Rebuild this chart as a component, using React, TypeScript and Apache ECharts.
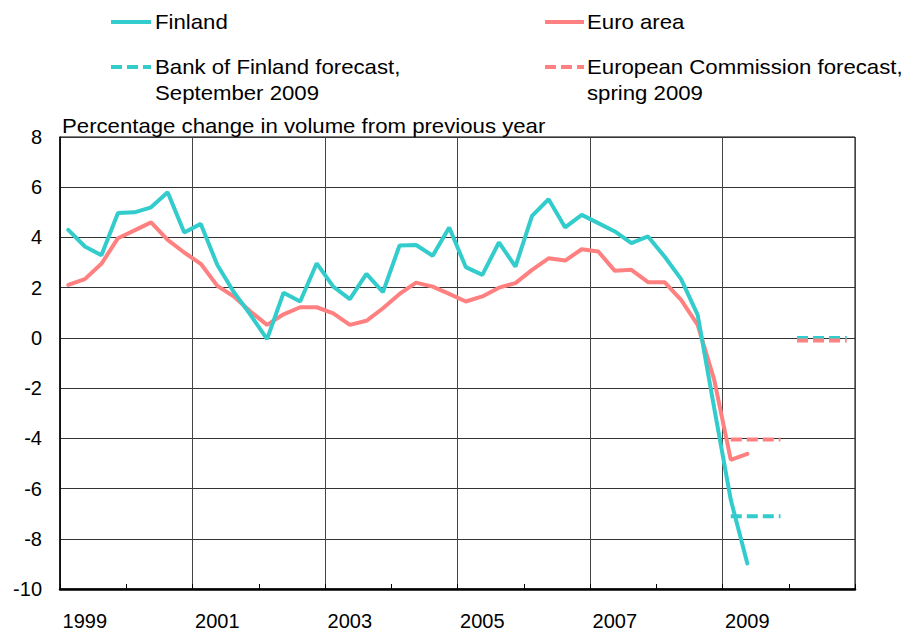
import React, { useEffect, useRef } from 'react';
import * as echarts from 'echarts';

const years = ['1999', '2000', '2001', '2002', '2003', '2004', '2005', '2006', '2007', '2008', '2009', '2010'];
const quarters = ['Q1', 'Q2', 'Q3', 'Q4'];

const finland = [
  4.3, 3.64, 3.29, 4.97, 5.0, 5.2, 5.8, 4.2,
  4.54, 2.9, 1.82, 0.92, -0.05, 1.8, 1.45, 2.97,
  2.04, 1.54, 2.55, 1.82, 3.68, 3.7, 3.27, 4.4,
  2.82, 2.51, 3.8, 2.84, 4.86, 5.52, 4.4, 4.9,
  4.57, 4.24, 3.77, 4.04, 3.24, 2.34, 0.92, -2.8,
  -6.45, -8.98,
];

const euroArea = [
  2.11, 2.34, 2.95, 3.97, 4.28, 4.6, 3.9, 3.4,
  2.95, 2.07, 1.65, 1.05, 0.52, 0.94, 1.22, 1.22,
  0.98, 0.52, 0.68, 1.18, 1.75, 2.2, 2.04, 1.75,
  1.45, 1.65, 2.0, 2.18, 2.71, 3.17, 3.08, 3.53,
  3.44, 2.67, 2.71, 2.22, 2.22, 1.51, 0.52, -1.67,
  -4.86, -4.62,
];

const forecastYears = ['2009', '2010'];
const bofForecast = [-7.1, 0.0];
const ecForecast = [-4.05, -0.1];

const CYAN = '#33CCCC';
const RED = '#FF8080';
const FONT = 'Arial, "Liberation Sans", Helvetica, sans-serif';

const categories = years.flatMap((y) => quarters.map((q) => `${y}${q}`));

function forecastData(year: string, value: number) {
  return categories.map((c) => (c.startsWith(year) ? value : null));
}

export default function App() {
  const ref = useRef<HTMLDivElement>(null);

  useEffect(() => {
    if (!ref.current) return;
    const chart = echarts.init(ref.current, undefined, { renderer: 'svg' });

    const forecastSeries: any[] = [];
    forecastYears.forEach((yr, k) => {
      forecastSeries.push({
        name: 'Bank of Finland forecast, September 2009',
        type: 'line',
        data: forecastData(yr, bofForecast[k]),
        symbol: 'none',
        lineStyle: { color: CYAN, width: 4, type: [11, 5], cap: 'butt' },
        itemStyle: { color: CYAN },
      });
    });
    forecastYears.forEach((yr, k) => {
      forecastSeries.push({
        name: 'European Commission forecast, spring 2009',
        type: 'line',
        data: forecastData(yr, ecForecast[k]),
        symbol: 'none',
        lineStyle: { color: RED, width: 4, type: [11, 5], cap: 'butt' },
        itemStyle: { color: RED },
      });
    });

    const legendText = (x: number, y: number, text: string) => ({
      type: 'text',
      x,
      y,
      scaleX: 1.11,
      style: {
        text,
        fill: '#000',
        font: `20px ${FONT}`,
        verticalAlign: 'middle',
        align: 'left',
      },
    });
    const legendLine = (x1: number, x2: number, y: number, color: string, dashed: boolean) => ({
      type: 'line',
      shape: { x1, y1: y, x2, y2: y },
      style: {
        stroke: color,
        lineWidth: 4,
        lineDash: dashed ? [11, 5] : null,
      },
    });

    chart.setOption({
      animation: false,
      backgroundColor: '#fff',
      grid: {
        left: 60,
        top: 137,
        width: 795,
        height: 452,
        show: true,
        borderColor: '#000',
        borderWidth: 1,
      },
      xAxis: {
        type: 'category',
        data: categories,
        boundaryGap: true,
        axisLine: { show: true, onZero: false, lineStyle: { color: '#000', width: 2.5 } },
        axisTick: {
          show: true,
          inside: true,
          length: 5,
          interval: (i: number) => i % 4 === 0,
          lineStyle: { color: '#000', width: 1 },
        },
        axisLabel: {
          interval: (i: number) => i % 8 === 1,
          formatter: (v: string) => v.slice(0, 4),
          fontSize: 20,
          fontFamily: FONT,
          color: '#000',
          margin: 22,
        },
        splitLine: {
          show: true,
          interval: (i: number) => i % 8 === 0,
          lineStyle: { color: '#444', width: 1 },
        },
      },
      yAxis: {
        type: 'value',
        min: -10,
        max: 8,
        interval: 2,
        axisLine: { show: true, lineStyle: { color: '#000', width: 1.5 } },
        axisTick: { show: false },
        axisLabel: {
          fontSize: 20,
          fontFamily: FONT,
          color: '#000',
          margin: 18,
        },
        splitLine: { show: true, lineStyle: { color: '#333', width: 1 } },
      },
      series: [
        {
          name: 'Euro area',
          type: 'line',
          data: euroArea,
          symbol: 'none',
          lineStyle: { color: RED, width: 4, cap: 'round' },
          itemStyle: { color: RED },
        },
        {
          name: 'Finland',
          type: 'line',
          data: finland,
          symbol: 'none',
          lineStyle: { color: CYAN, width: 4, cap: 'round' },
          itemStyle: { color: CYAN },
        },
        ...forecastSeries,
      ],
      graphic: [
        legendLine(111, 151, 22, CYAN, false),
        legendText(155, 22, 'Finland'),
        legendLine(111, 151, 67, CYAN, true),
        legendText(155, 67, 'Bank of Finland forecast,'),
        legendText(155, 93, 'September 2009'),
        legendLine(545, 584, 22, RED, false),
        legendText(587, 22, 'Euro area'),
        legendLine(545, 584, 67, RED, true),
        legendText(587, 67, 'European Commission forecast,'),
        legendText(587, 93, 'spring 2009'),
        legendText(62, 126, 'Percentage change in volume from previous year'),
      ],
    });

    return () => chart.dispose();
  }, []);

  return (
    <div
      ref={ref}
      style={{ position: 'absolute', left: 0, top: 0, width: 908, height: 634 }}
    />
  );
}
